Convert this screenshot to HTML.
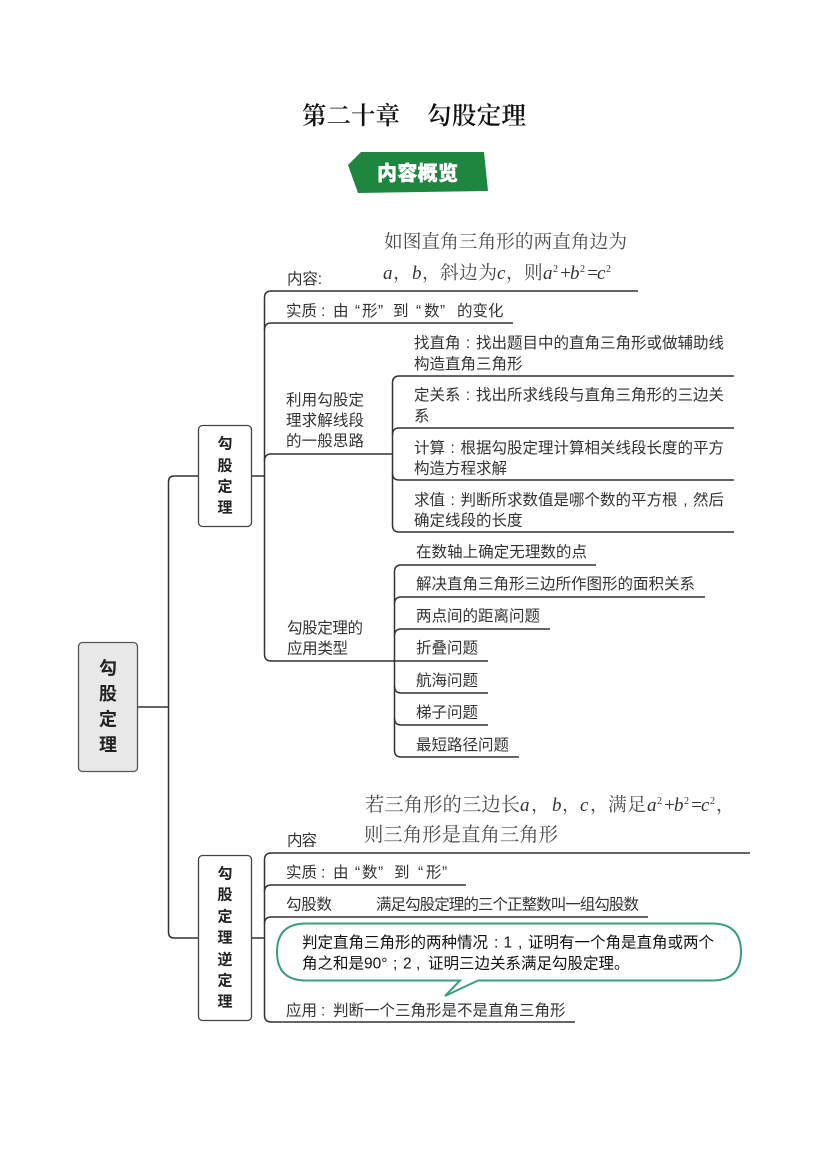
<!DOCTYPE html>
<html lang="zh">
<head>
<meta charset="utf-8">
<title>第二十章 勾股定理</title>
<style>
html,body{margin:0;padding:0;background:#fff;width:827px;height:1169px;overflow:hidden}
svg{display:block}
.s{font-family:"Liberation Sans","Noto Sans CJK SC",sans-serif;font-size:15.5px;fill:#333}
.m{font-family:"Liberation Serif","Noto Serif CJK SC",serif;font-size:18.7px;fill:#4a4a4a}
.i{font-family:"Liberation Serif",serif;font-style:italic;font-size:19px;fill:#333}
.u{font-family:"Liberation Serif",serif;font-size:10px;fill:#333}
.c{font-family:"Liberation Sans","Noto Sans CJK SC",sans-serif;font-size:15.5px;fill:#111}
.b{font-family:"Liberation Sans","Noto Sans CJK SC",sans-serif;font-weight:700;fill:#222;text-anchor:middle}
.l{fill:none;stroke:#333;stroke-width:1.5}
</style>
</head>
<body>
<svg width="827" height="1169" viewBox="0 0 827 1169" xmlns="http://www.w3.org/2000/svg">
<rect width="827" height="1169" fill="#fff"/>

<text x="302" y="124" font-family="'Liberation Serif','Noto Serif CJK SC',serif" font-size="24.5" font-weight="600" fill="#111" textLength="98" lengthAdjust="spacing">第二十章</text>
<text x="427" y="124" font-family="'Liberation Serif','Noto Serif CJK SC',serif" font-size="24.5" font-weight="600" fill="#111" textLength="99" lengthAdjust="spacing">勾股定理</text>

<polygon points="348,165 361,152 484,152 488,191 358,193" fill="#1f8640"/>
<text x="377" y="180" font-family="'Liberation Sans','Noto Sans CJK SC',sans-serif" font-size="20" font-weight="900" fill="#fff" stroke="#fff" stroke-width=".4" textLength="81" lengthAdjust="spacing">内容概览</text>

<!-- connectors -->
<path class="l" d="M138 707H168"/>
<path class="l" d="M198 476H174Q168.500 476 168.500 482V932Q168.500 938 174 938H198"/>
<path class="l" d="M252 476H264"/>
<path class="l" d="M252 938H264"/>

<path class="l" d="M638 291H271Q264.500 291 264.500 298V654Q264.500 661 271 661H488"/>
<path class="l" d="M513 323H271Q264.500 323 264.500 330"/>
<path class="l" d="M392 454H271Q264.500 454 264.500 461"/>

<path class="l" d="M734 376H399Q392.500 376 392.500 383V525Q392.500 532 399 532H734"/>
<path class="l" d="M734 428H399Q392.500 428 392.500 435"/>
<path class="l" d="M734 480H399Q392.500 480 392.500 473"/>

<path class="l" d="M596 565H401Q394.500 565 394.500 572V750Q394.500 757 401 757H519"/>
<path class="l" d="M705 597H401Q394.500 597 394.500 604"/>
<path class="l" d="M550 629H401Q394.500 629 394.500 636"/>
<path class="l" d="M488 693H401Q394.500 693 394.500 686"/>
<path class="l" d="M488 725H401Q394.500 725 394.500 718"/>

<path class="l" d="M750 853H271Q264.500 853 264.500 860V1015Q264.500 1022 271 1022H575"/>
<path class="l" d="M466 885H271Q264.500 885 264.500 892"/>
<path class="l" d="M648 917H271Q264.500 917 264.500 924"/>

<!-- boxes -->
<rect x="78.500" y="642.500" width="59" height="129" rx="4" fill="#e8e8e8" stroke="#555" stroke-width="1.300"/>
<text class="b" font-size="18" x="108" y="674.500">勾</text>
<text class="b" font-size="18" x="108" y="700">股</text>
<text class="b" font-size="18" x="108" y="725.500">定</text>
<text class="b" font-size="18" x="108" y="751">理</text>

<rect x="198.500" y="425.500" width="53" height="101" rx="4" fill="#fff" stroke="#444" stroke-width="1.300"/>
<text class="b" font-size="15" x="225" y="448.500">勾</text>
<text class="b" font-size="15" x="225" y="470.500">股</text>
<text class="b" font-size="15" x="225" y="491.500">定</text>
<text class="b" font-size="15" x="225" y="512.500">理</text>

<rect x="198.500" y="855.500" width="53" height="165" rx="4" fill="#fff" stroke="#444" stroke-width="1.300"/>
<text class="b" font-size="15" x="225" y="878.500">勾</text>
<text class="b" font-size="15" x="225" y="899.500">股</text>
<text class="b" font-size="15" x="225" y="921.500">定</text>
<text class="b" font-size="15" x="225" y="942.500">理</text>
<text class="b" font-size="15" x="225" y="964.500">逆</text>
<text class="b" font-size="15" x="225" y="985.500">定</text>
<text class="b" font-size="15" x="225" y="1006.500">理</text>

<!-- branch 1 -->
<text class="s" x="287" y="284" textLength="35" lengthAdjust="spacing">内容:</text>
<text class="m" x="384" y="248" textLength="243" lengthAdjust="spacing">如图直角三角形的两直角边为</text>
<text class="i" x="383" y="279">a</text><text class="m" x="393" y="279">，</text>
<text class="i" x="412" y="279">b</text><text class="m" x="422" y="279">，</text>
<text class="m" x="440" y="279" textLength="57" lengthAdjust="spacing">斜边为</text>
<text class="i" x="497" y="279">c</text><text class="m" x="506" y="279">，</text>
<text class="m" x="524" y="279">则</text>
<text class="i" x="543" y="279">a</text><text class="u" x="553" y="272">2</text>
<text class="i" x="559" y="279" font-style="normal">+</text>
<text class="i" x="570" y="279">b</text><text class="u" x="580" y="272">2</text>
<text class="i" x="586" y="279" font-style="normal">=</text>
<text class="i" x="597" y="279">c</text><text class="u" x="606" y="272">2</text>

<text class="s" y="316"><tspan x="286">实质</tspan><tspan x="321">:</tspan><tspan x="333">由</tspan><tspan x="355">“</tspan><tspan x="362">形</tspan><tspan x="378">”</tspan><tspan x="393">到</tspan><tspan x="416">“</tspan><tspan x="424">数</tspan><tspan x="440">”</tspan><tspan x="457">的变化</tspan></text>

<text class="s" x="286" y="405" textLength="78" lengthAdjust="spacing">利用勾股定</text>
<text class="s" x="286" y="425.500" textLength="78" lengthAdjust="spacing">理求解线段</text>
<text class="s" x="286" y="446" textLength="78" lengthAdjust="spacing">的一般思路</text>

<text class="s" y="348"><tspan x="414">找直角</tspan><tspan x="465.800">:</tspan><tspan x="476">找出题目中的直角三角形或做辅助线</tspan></text>
<text class="s" x="414" y="369">构造直角三角形</text>
<text class="s" y="400"><tspan x="414">定关系</tspan><tspan x="465.800">:</tspan><tspan x="476">找出所求线段与直角三角形的三边关</tspan></text>
<text class="s" x="414" y="421">系</text>
<text class="s" y="453"><tspan x="414">计算</tspan><tspan x="450.500">:</tspan><tspan x="460.500">根据勾股定理计算相关线段长度的平方</tspan></text>
<text class="s" x="414" y="473.500">构造方程求解</text>
<text class="s" y="505"><tspan x="414">求值</tspan><tspan x="450.500">:</tspan><tspan x="460.500">判断所求数值是哪个数的平方根</tspan><tspan x="683.300">,</tspan><tspan x="693">然后</tspan></text>
<text class="s" x="414" y="525.500">确定线段的长度</text>

<text class="s" x="287" y="633" textLength="76" lengthAdjust="spacing">勾股定理的</text>
<text class="s" x="287" y="653.500" textLength="61" lengthAdjust="spacing">应用类型</text>

<text class="s" x="416" y="557" textLength="171" lengthAdjust="spacing">在数轴上确定无理数的点</text>
<text class="s" x="416" y="589" textLength="279" lengthAdjust="spacing">解决直角三角形三边所作图形的面积关系</text>
<text class="s" x="416" y="621" textLength="124" lengthAdjust="spacing">两点间的距离问题</text>
<text class="s" x="416" y="653" textLength="62" lengthAdjust="spacing">折叠问题</text>
<text class="s" x="416" y="685.500" textLength="62" lengthAdjust="spacing">航海问题</text>
<text class="s" x="416" y="717.500" textLength="62" lengthAdjust="spacing">梯子问题</text>
<text class="s" x="416" y="750" textLength="93" lengthAdjust="spacing">最短路径问题</text>

<!-- branch 2 -->
<text class="s" x="287" y="845.500" textLength="30" lengthAdjust="spacing">内容</text>
<text class="m" x="365" y="811" textLength="155" lengthAdjust="spacing" style="font-size:19.300px">若三角形的三边长</text>
<text class="i" x="520" y="811">a</text><text class="m" x="531" y="811">，</text>
<text class="i" x="552" y="811">b</text><text class="m" x="562" y="811">，</text>
<text class="i" x="580" y="811">c</text><text class="m" x="590" y="811">，</text>
<text class="m" x="608" y="811" textLength="38" lengthAdjust="spacing">满足</text>
<text class="i" x="647" y="811">a</text><text class="u" x="657" y="804">2</text>
<text class="i" x="663" y="811" font-style="normal">+</text>
<text class="i" x="674" y="811">b</text><text class="u" x="684" y="804">2</text>
<text class="i" x="690" y="811" font-style="normal">=</text>
<text class="i" x="701" y="811">c</text><text class="u" x="710" y="804">2</text>
<text class="m" x="716" y="811">，</text>
<text class="m" x="364" y="841" textLength="194" lengthAdjust="spacing" style="font-size:19.300px">则三角形是直角三角形</text>

<text class="s" y="877.500"><tspan x="286">实质</tspan><tspan x="321">:</tspan><tspan x="333">由</tspan><tspan x="355">“</tspan><tspan x="362">数</tspan><tspan x="378">”</tspan><tspan x="394">到</tspan><tspan x="418">“</tspan><tspan x="426">形</tspan><tspan x="442">”</tspan></text>
<text class="s" x="286" y="909.500" textLength="46" lengthAdjust="spacing">勾股数</text>
<text class="s" x="376" y="909.500" textLength="263" lengthAdjust="spacing">满足勾股定理的三个正整数叫一组勾股数</text>

<path d="M306 923.500H712Q741 923.500 741 952Q741 980.500 712 980.500H478L445 996L460 980.500H306Q277 980.500 277 952Q277 923.500 306 923.500Z" fill="#fff" stroke="#3a9e7f" stroke-width="2"/>
<text class="c" y="947.500"><tspan x="302">判定直角三角形的两种情况</tspan><tspan x="494">:</tspan><tspan x="503.500">1</tspan><tspan x="518">,</tspan><tspan x="528">证明有一个角是直角或两个</tspan></text>
<text class="c" y="968.500"><tspan x="302">角之和是90°</tspan><tspan x="393">;</tspan><tspan x="403">2</tspan><tspan x="416">,</tspan><tspan x="428">证明三边关系满足勾股定理。</tspan></text>

<text class="s" y="1015.500"><tspan x="286">应用</tspan><tspan x="321">:</tspan><tspan x="333">判断一个三角形是不是直角三角形</tspan></text>
</svg>
</body>
</html>
